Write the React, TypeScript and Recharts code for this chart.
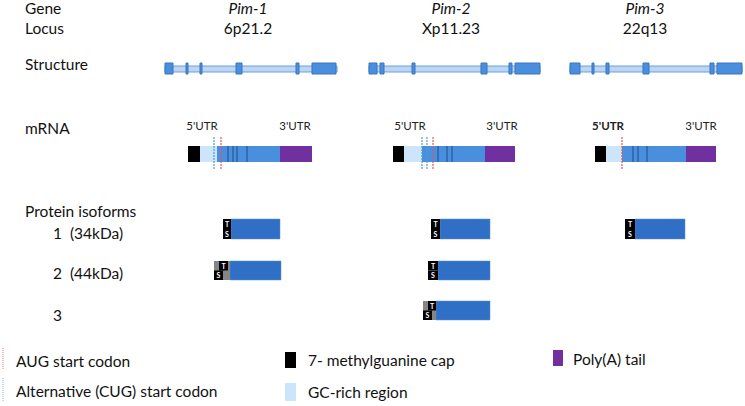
import { ComposedChart, XAxis, YAxis, ReferenceArea, ReferenceLine, Scatter } from "recharts";

// Diagram space: x / y in page units of the original figure
const W = 745;
const H = 406;

const GENES = ["Pim-1", "Pim-2", "Pim-3"];
const LOCI = ["6p21.2", "Xp11.23", "22q13"];
const GENE_X = [248, 451, 645];

const ROW_LABELS = ["Gene", "Locus", "Structure", "mRNA", "Protein isoforms"];
const ROW_Y = [8, 28, 64, 128, 211];
const ISOFORM_LABELS = ["1\u00a0\u00a0(34kDa)", "2\u00a0\u00a0(44kDa)", "3"];
const ISOFORM_LABEL_Y = [233, 273, 315];
const ISOFORM_ROWS = [
  [219, 239],
  [261, 280],
  [301, 320],
];

// gene structure: full span + exons
const GENE_SPAN = [
  [165, 337],
  [369, 540],
  [570, 742],
];
const EXONS = [
  [[165, 173], [186, 188], [200, 202], [236, 242], [296, 299], [312, 336]],
  [[369, 377], [380, 384], [412, 415], [481, 487], [509, 512], [515, 540]],
  [[570, 580], [592, 594], [606, 609], [643, 649], [710, 714], [717, 742]],
];

// mRNA segments
const CAP = [[188, 200], [393, 404], [595, 606]];
const GC_RICH = [[200, 217], [404, 422], [606, 622]];
const CDS = [[217, 280], [422, 485], [622, 686]];
const POLY_A = [[280, 312], [485, 515], [686, 716]];
const CUG_SITES = [[214], [422, 427], []];
const AUG_SITES = [[221], [433], [622]];
const JUNCTIONS = [[228, 233, 237, 247], [438, 447, 452], [633, 638, 647]];
const UTR5_X = [202, 410, 608];
const UTR3_X = [295, 502, 701];
const UTR5_BOLD = [false, false, true];

// protein isoforms: row index, TS block(s), optional grey extension, end of body
const PROTEINS = [
  [
    { row: 0, grey: null, t: [223, 231], s: [223, 231], end: 280 },
    { row: 1, grey: [214, 230], t: [219, 228], s: [214, 223], end: 281 },
  ],
  [
    { row: 0, grey: null, t: [431, 440], s: [431, 440], end: 490 },
    { row: 1, grey: null, t: [428, 438], s: [428, 438], end: 490 },
    { row: 2, grey: [423, 436], t: [428, 436], s: [423, 432], end: 490 },
  ],
  [{ row: 0, grey: null, t: [625, 635], s: [625, 635], end: 685 }],
];

// legend
const LEGEND_LINES = [
  { label: "AUG start codon", color: "#e07a7a", y: [348, 370], ty: 361 },
  { label: "Alternative (CUG) start codon", color: "#7fb6dc", y: [378, 402], ty: 391 },
];
const LEGEND_BOXES = [
  { label: "7- methylguanine cap", color: "#000000", x: [285, 296], y: [352, 368], tx: 308, ty: 360 },
  { label: "GC-rich region", color: "#cde5fa", x: [285, 296], y: [383, 401], tx: 308, ty: 392 },
  { label: "Poly(A) tail", color: "#7030a0", x: [553, 563], y: [350, 366], tx: 573, ty: 359 },
];

const FONT = "Lato, 'Open Sans', sans-serif";
const BLUE = "#4a8fdd";
const PROTEIN_BLUE = "#2f70c6";

function makeText(style: { size: number; anchor: string; italic?: boolean; bold?: boolean; color?: string }) {
  // eslint-disable-next-line @typescript-eslint/no-explicit-any
  return function TextShape(p: any) {
    return (
      <text
        x={p.cx}
        y={p.cy}
        fontSize={style.size}
        fontFamily={FONT}
        fontStyle={style.italic ? "italic" : "normal"}
        fontWeight={style.bold || p.payload.bold ? 700 : 400}
        textAnchor={style.anchor}
        dominantBaseline="central"
        fill={style.color ?? "#111"}
      >
        {p.payload.text}
      </text>
    );
  };
}

const rowText = ROW_LABELS.map((text, i) => ({ x: 25, y: ROW_Y[i], text }));
const isoText = ISOFORM_LABELS.map((text, i) => ({ x: 53, y: ISOFORM_LABEL_Y[i], text }));
const geneText = GENES.map((text, i) => ({ x: GENE_X[i], y: 8, text }));
const locusText = LOCI.map((text, i) => ({ x: GENE_X[i], y: 28, text }));
const utrText = [
  ...UTR5_X.map((x, i) => ({ x, y: 125, text: "5'UTR", bold: UTR5_BOLD[i] })),
  ...UTR3_X.map((x) => ({ x, y: 125, text: "3'UTR", bold: false })),
];
const legendText = [
  ...LEGEND_LINES.map((l) => ({ x: 16, y: l.ty, text: l.label })),
  ...LEGEND_BOXES.map((b) => ({ x: b.tx, y: b.ty, text: b.label })),
];
const tsText = PROTEINS.flat().flatMap((p) => {
  const [y0, y1] = ISOFORM_ROWS[p.row];
  const mid = (y0 + y1) / 2;
  return [
    { x: (p.t[0] + p.t[1]) / 2, y: (y0 + mid) / 2, text: "T" },
    { x: (p.s[0] + p.s[1]) / 2, y: (mid + y1) / 2, text: "S" },
  ];
});

export default function App() {
  return (
    <div style={{ position: "absolute", left: 0, top: 0, background: "#fff" }}>
      <ComposedChart width={W} height={H} margin={{ top: 0, right: 0, bottom: 0, left: 0 }}>
        <XAxis type="number" dataKey="x" domain={[0, W]} allowDataOverflow hide />
        <YAxis type="number" dataKey="y" domain={[0, H]} allowDataOverflow reversed hide />

        {/* gene structure */}
        {GENE_SPAN.map(([a, b], i) => (
          <ReferenceArea key={`span${i}`} x1={a} x2={b} y1={66} y2={72} fill="#bcd5f2" fillOpacity={1} stroke="#6b9fdc" strokeWidth={1} />
        ))}
        {EXONS.flatMap((ex, i) =>
          ex.map(([a, b], j) => (
            <ReferenceArea key={`ex${i}-${j}`} x1={a} x2={b} y1={63} y2={74} fill={BLUE} fillOpacity={1} stroke="#3a74bd" strokeWidth={1} />
          ))
        )}

        {/* mRNA */}
        {CAP.map(([a, b], i) => (
          <ReferenceArea key={`cap${i}`} x1={a} x2={b} y1={146} y2={162} fill="#000" fillOpacity={1} stroke="none" />
        ))}
        {GC_RICH.map(([a, b], i) => (
          <ReferenceArea key={`gc${i}`} x1={a} x2={b} y1={146} y2={162} fill="#cde5fa" fillOpacity={1} stroke="none" />
        ))}
        {CDS.map(([a, b], i) => (
          <ReferenceArea key={`cds${i}`} x1={a} x2={b} y1={146} y2={162} fill={BLUE} fillOpacity={1} stroke="none" />
        ))}
        {POLY_A.map(([a, b], i) => (
          <ReferenceArea key={`pa${i}`} x1={a} x2={b} y1={146} y2={162} fill="#7030a0" fillOpacity={1} stroke="none" />
        ))}
        {JUNCTIONS.flatMap((js, i) =>
          js.map((x, j) => (
            <ReferenceLine key={`j${i}-${j}`} segment={[{ x, y: 146 }, { x, y: 162 }]} stroke="#1f4f86" strokeWidth={1} />
          ))
        )}
        {CUG_SITES.flatMap((xs, i) =>
          xs.map((x, j) => (
            <ReferenceLine key={`cug${i}-${j}`} segment={[{ x, y: 137 }, { x, y: 170 }]} stroke="#4f9bd0" strokeWidth={1.2} strokeDasharray="2 1" />
          ))
        )}
        {AUG_SITES.flatMap((xs, i) =>
          xs.map((x, j) => (
            <ReferenceLine key={`aug${i}-${j}`} segment={[{ x, y: 137 }, { x, y: 170 }]} stroke="#dd5a5a" strokeWidth={1.2} strokeDasharray="2 1" />
          ))
        )}

        {/* protein isoforms */}
        {PROTEINS.flatMap((list, i) =>
          list.flatMap((p, j) => {
            const [y0, y1] = ISOFORM_ROWS[p.row];
            const mid = (y0 + y1) / 2;
            const start = p.grey ? p.grey[1] : p.t[1];
            const out = [
              <ReferenceArea key={`pb${i}-${j}`} x1={start} x2={p.end} y1={y0} y2={y1} fill={PROTEIN_BLUE} fillOpacity={1} stroke="#5b8fd0" strokeWidth={0.5} />,
            ];
            if (p.grey) {
              out.push(
                <ReferenceArea key={`pg${i}-${j}`} x1={p.grey[0]} x2={p.grey[1]} y1={y0} y2={y1} fill="#858585" fillOpacity={1} stroke="none" />
              );
            }
            out.push(
              <ReferenceArea key={`pt${i}-${j}`} x1={p.t[0]} x2={p.t[1]} y1={y0} y2={mid} fill="#000" fillOpacity={1} stroke="none" />,
              <ReferenceArea key={`ps${i}-${j}`} x1={p.s[0]} x2={p.s[1]} y1={mid} y2={y1} fill="#000" fillOpacity={1} stroke="none" />
            );
            return out;
          })
        )}

        {/* legend */}
        {LEGEND_LINES.map((l, i) => (
          <ReferenceLine key={`ll${i}`} segment={[{ x: 3, y: l.y[0] }, { x: 3, y: l.y[1] }]} stroke={l.color} strokeWidth={1} strokeDasharray="1 1" />
        ))}
        {LEGEND_BOXES.map((b, i) => (
          <ReferenceArea key={`lb${i}`} x1={b.x[0]} x2={b.x[1]} y1={b.y[0]} y2={b.y[1]} fill={b.color} fillOpacity={1} stroke="none" />
        ))}

        {/* text */}
        <Scatter data={rowText} isAnimationActive={false} shape={makeText({ size: 15.5, anchor: "start" })} />
        <Scatter data={isoText} isAnimationActive={false} shape={makeText({ size: 15.5, anchor: "start" })} />
        <Scatter data={geneText} isAnimationActive={false} shape={makeText({ size: 15.5, anchor: "middle", italic: true })} />
        <Scatter data={locusText} isAnimationActive={false} shape={makeText({ size: 15.5, anchor: "middle" })} />
        <Scatter data={utrText} isAnimationActive={false} shape={makeText({ size: 11.5, anchor: "middle", color: "#222" })} />
        <Scatter data={legendText} isAnimationActive={false} shape={makeText({ size: 15.5, anchor: "start" })} />
        <Scatter data={tsText} isAnimationActive={false} shape={makeText({ size: 7, anchor: "middle", bold: true, color: "#fff" })} />
      </ComposedChart>
    </div>
  );
}
